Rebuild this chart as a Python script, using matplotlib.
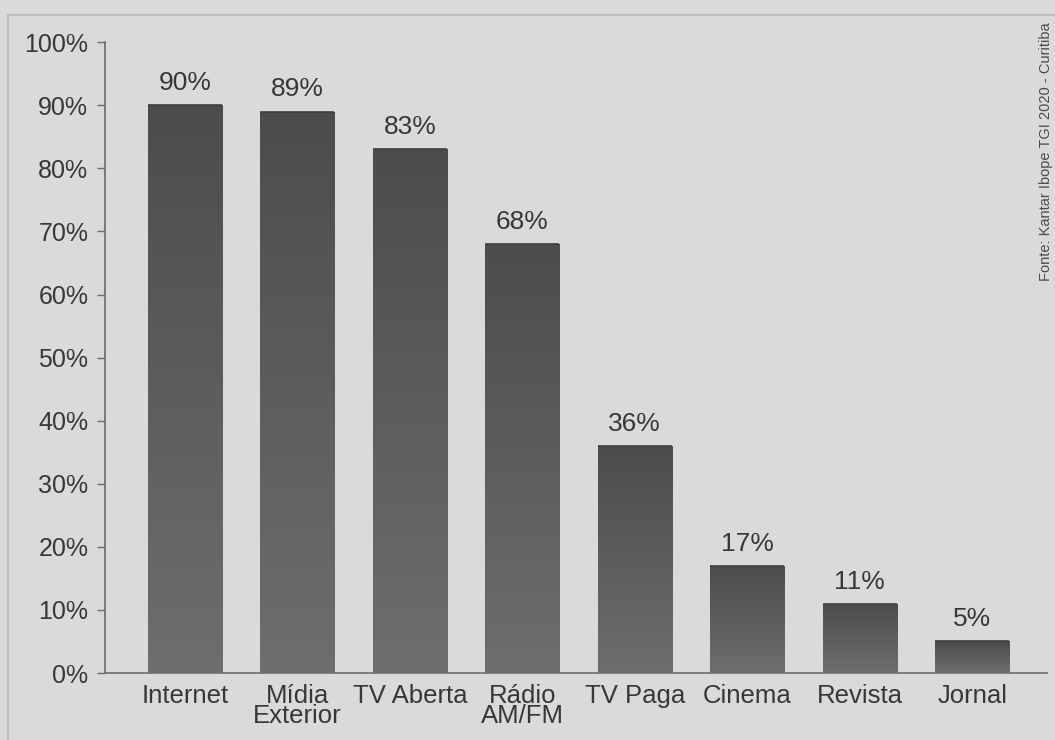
import numpy as np
import matplotlib
matplotlib.use("Agg")
import matplotlib.pyplot as plt
from matplotlib.colors import LinearSegmentedColormap

# data
categorias = ["Internet", "Mídia\nExterior", "TV Aberta", "Rádio\nAM/FM",
              "TV Paga", "Cinema", "Revista", "Jornal"]
valores = [90, 89, 83, 68, 36, 17, 11, 5]
yticks = [0, 10, 20, 30, 40, 50, 60, 70, 80, 90, 100]
fonte = "Fonte: Kantar Ibope TGI 2020 - Curitiba"

BG = "#d8dbd9"
TXT = "#363837"

plt.rcParams["font.family"] = ["Liberation Sans", "DejaVu Sans"]

fig = plt.figure(figsize=(10.55, 7.40), dpi=100, facecolor=BG)
ax = fig.add_axes([0.0995, 0.0905, 0.8925, 0.8525])
ax.set_facecolor(BG)

x = np.arange(len(categorias))
bars = ax.bar(x, valores, width=0.66, color="#5a5d5b", edgecolor="none", zorder=2)

# vertical gradient inside each bar, darker at the top
cmap = LinearSegmentedColormap.from_list("bar", ["#6c6f6d", "#4a4d4b"])
grad = np.linspace(0, 1, 256).reshape(-1, 1)
for b in bars:
    x0, y0 = b.get_x(), b.get_y()
    w, h = b.get_width(), b.get_height()
    im = ax.imshow(grad, cmap=cmap, aspect="auto", origin="lower",
                   extent=[x0, x0 + w, y0, y0 + h], zorder=3)
    im.set_clip_path(b)
    ax.plot([x0, x0 + w], [y0 + h, y0 + h], color="#3c3f3d", lw=1.2, zorder=4,
            solid_capstyle="butt")

for xi, v in zip(x, valores):
    ax.text(xi, v + 1.6, f"{v}%", ha="center", va="bottom", fontsize=19,
            color=TXT)

ax.set_xlim(-0.71, 7.66)
ax.set_ylim(0, 100)
ax.set_yticks(yticks)
ax.set_yticklabels([f"{t}%" for t in yticks], fontsize=18, color=TXT)
ax.set_xticks(x)
ax.set_xticklabels(categorias, fontsize=18.5, color=TXT, linespacing=0.8)
ax.tick_params(axis="x", length=0, pad=8)
ax.tick_params(axis="y", length=6, width=1, color="#6a6d6b", pad=6)

for side in ("top", "right"):
    ax.spines[side].set_visible(False)
for side in ("left", "bottom"):
    ax.spines[side].set_color("#6a6d6b")
    ax.spines[side].set_linewidth(1.2)

# outer frame of the printed chart
fig.patches.append(plt.Rectangle((0.008, -0.05), 1.1, 1.03, transform=fig.transFigure,
                                 fill=False, edgecolor="#b9bcba", lw=1.5))

fig.text(0.991, 0.97, fonte, rotation=90, ha="center", va="top", fontsize=10.5,
         color="#4a4c4b", family=["Liberation Sans Narrow", "Liberation Sans"])

fig.savefig("out.png", dpi=100, facecolor=BG)
